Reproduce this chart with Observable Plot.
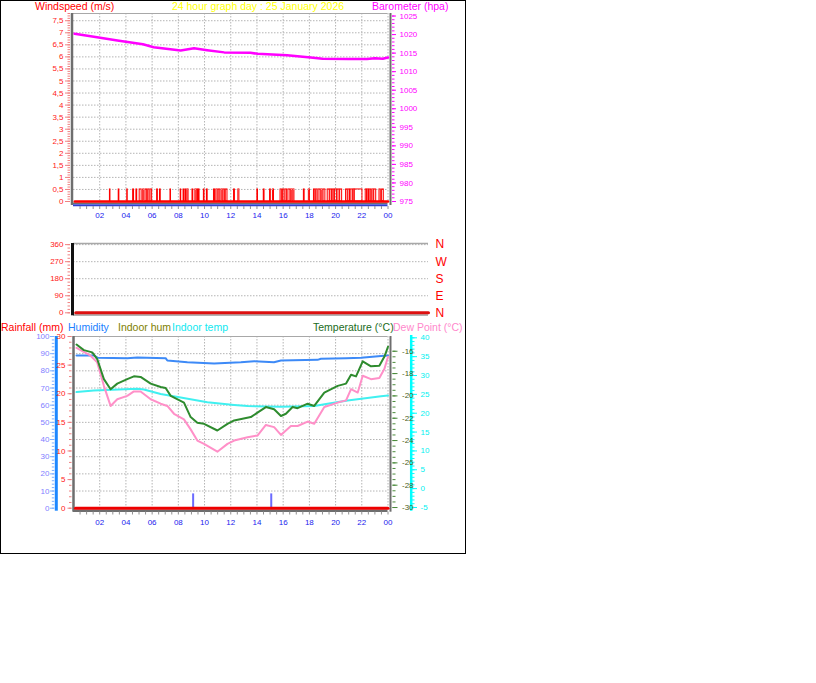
<!DOCTYPE html>
<html><head><meta charset="utf-8">
<script src="https://cdn.jsdelivr.net/npm/d3@7"></script>
<script src="https://cdn.jsdelivr.net/npm/@observablehq/plot@0.6"></script>
<style>
html,body{margin:0;padding:0;background:#fff;}
body{width:816px;height:683px;position:relative;overflow:hidden;font-family:"Liberation Sans",Arial,sans-serif;}
#box{position:absolute;left:0;top:0;width:464px;height:552px;border:1px solid #000;}
.layer{position:absolute;left:0;width:466px;}
.layer svg{background:transparent !important;overflow:visible;display:block;max-width:none !important;}
.t{position:absolute;font-size:10.5px;white-space:nowrap;line-height:12px;}
</style></head><body>
<div id="box"></div>
<div id="c"></div>
<div class="t" style="left:35px;top:0px;color:#ff0000">Windspeed (m/s)</div>
<div class="t" style="left:258px;top:0px;color:#ffff00;transform:translateX(-50%)">24 hour graph day : 25 January 2026</div>
<div class="t" style="left:372px;top:0px;color:#ff00ff">Barometer (hpa)</div>
<div class="t" style="left:1px;top:321px;color:#ff0000">Rainfall (mm)</div>
<div class="t" style="left:68px;top:321px;color:#2080ff">Humidity</div>
<div class="t" style="left:118px;top:321px;color:#808000">Indoor hum</div>
<div class="t" style="left:172px;top:321px;color:#10e8f0">Indoor temp</div>
<div class="t" style="left:313px;top:321px;color:#1a6b1a">Temperature (°C)</div>
<div class="t" style="left:393px;top:321px;color:#ff88cc">Dew Point (°C)</div>
<script>
// ---------------- data ----------------
const hourTicks = [2,4,6,8,10,12,14,16,18,20,22,24];
const hourLabels = ["02","04","06","08","10","12","14","16","18","20","22","00"];

const windTicks = [0,0.5,1,1.5,2,2.5,3,3.5,4,4.5,5,5.5,6,6.5,7,7.5];
const windBaseHour = [0.1, 24];
const windBaseValue = [0, 0];
const windGust = 0.5;
const windPulses = [[2.78,2.82],[3.45,3.5],[4.1,4.14],[4.55,4.62],[4.8,4.86],[5.05,5.2],[5.32,5.4],[5.5,5.62],[5.7,5.8],[5.88,6.0],[6.38,6.44],[6.6,6.66],[7.4,7.44],[8.18,8.22],[8.4,8.46],[8.55,8.62],[8.7,8.78],[9.08,9.14],[9.3,9.38],[9.45,9.52],[9.56,9.62],[9.95,10.0],[10.18,10.24],[10.72,10.8],[10.9,11.0],[11.08,11.2],[11.3,11.38],[11.45,11.55],[11.62,11.75],[12.25,12.32],[12.58,12.66],[14.03,14.08],[14.52,14.58],[15.0,15.06],[15.22,15.3],[15.8,15.9],[15.98,16.1],[16.18,16.3],[16.4,16.55],[16.62,16.7],[16.78,16.86],[17.58,17.64],[17.96,18.04],[18.35,18.45],[18.52,18.62],[18.7,18.85],[18.92,19.0],[19.08,19.22],[19.4,19.55],[19.6,19.72],[19.78,19.9],[19.95,20.1],[20.15,20.3],[20.35,20.5],[20.8,20.92],[20.98,21.1],[21.15,21.3],[21.35,21.45],[21.45,22.05],[22.3,22.4],[22.45,22.55],[22.6,22.72],[22.8,22.9],[22.95,23.1],[23.35,23.45],[23.55,23.68]];

const baroTicks = [975,980,985,990,995,1000,1005,1010,1015,1020,1025];
const baroHour  = [0.08,1.8,3.35,5.3,6.12,8.18,9.2,10.2,11.5,13.5,14.05,16.3,18.1,19.0,21.0,22.4,23.0,23.6,24.0];
const baroValue = [1020.2,1019.3,1018.4,1017.4,1016.6,1015.7,1016.3,1015.8,1015.2,1015.1,1014.8,1014.4,1013.8,1013.5,1013.4,1013.4,1013.6,1013.5,1013.8];

const dirTicks = [0,90,180,270,360];
const dirLabels = ["N","E","S","W","N"];
const dirHour = [0.15, 24];
const dirValue = [0, 0];

const rainTicks = [0,5,10,15,20,25,30];
const rainHour = [0.15, 24];
const rainValue = [0, 0];
const rainBarHour = [9.13, 15.09];
const rainBarValue = [2.5, 2.5];

const humTicks = [0,10,20,30,40,50,60,70,80,90,100];
const humHour  = [0.23,1.55,1.86,4.1,4.87,7.03,7.16,8.69,10.73,12.77,13.79,15.3,15.83,18.63,18.88,20.8,21.94,23.47,24];
const humValue = [89,89,87.6,87.4,87.8,87.4,86.0,85.0,84.3,85.0,85.6,85.0,86.0,86.4,87.0,87.4,87.6,88.6,89];

const tempTicks = [-30,-28,-26,-24,-22,-20,-18,-16];
const tempHour  = [0.23,0.79,1.43,1.81,2.32,2.83,3.34,4.1,4.61,5.12,5.89,6.65,7.03,7.42,8.43,8.94,9.45,9.96,10.98,11.75,12.26,13.53,14.04,14.68,15.31,15.83,16.21,16.72,17.1,17.87,18.37,19.14,20.16,20.8,21.18,21.56,22.07,22.7,23.34,23.72,24.0];
const tempValue = [-15.4,-15.9,-16.1,-16.7,-18.5,-19.4,-18.9,-18.5,-18.25,-18.3,-18.9,-19.2,-19.3,-20.0,-20.6,-21.9,-22.4,-22.5,-23.1,-22.5,-22.2,-21.9,-21.5,-21.0,-21.2,-21.8,-21.6,-21.0,-21.1,-20.7,-20.9,-19.7,-19.1,-18.9,-18.1,-18.25,-16.9,-17.35,-17.3,-16.5,-15.6];

const dewHour  = [0.23,1.30,1.81,2.32,2.83,3.34,4.1,4.61,5.12,5.89,6.65,7.16,7.67,8.43,8.94,9.45,9.96,10.98,11.75,12.26,13.28,14.04,14.68,15.31,15.83,16.59,17.1,17.87,18.37,19.14,20.16,20.8,21.18,21.69,22.07,22.7,23.34,23.72,24.0];
const dewValue = [-15.7,-16.4,-17.0,-19.1,-20.9,-20.3,-20.0,-19.6,-19.6,-20.3,-20.7,-20.9,-21.6,-22.1,-23.0,-24.0,-24.3,-25.0,-24.3,-24.0,-23.7,-23.55,-22.6,-22.8,-23.5,-22.7,-22.7,-22.3,-22.5,-21.0,-20.6,-20.4,-19.4,-19.7,-18.2,-18.5,-18.4,-17.6,-16.5];

const inTempTicks = [-5,0,5,10,15,20,25,30,35,40];
const inTempHour  = [0.23,1.55,4.87,5.37,6.65,8.18,10.22,12.26,13.28,15.83,18.37,19.39,20.92,23.47,24.0];
const inTempValue = [25.6,26.0,26.5,26.3,25.1,24.2,22.9,22.2,21.9,21.7,21.9,22.5,23.4,24.5,24.7];

// ---------------- helpers ----------------
const pts = (hs, vs) => hs.map((h, i) => ({h, v: vs[i]}));
const FONT = "Liberation Sans, Arial, sans-serif";
function layer(top, opts) {
  const svg = Plot.plot({
    width: 466,
    style: {background: "transparent", overflow: "visible", fontFamily: FONT, fontSize: "8px"},
    ...opts
  });
  const d = document.createElement("div");
  d.className = "layer";
  d.style.top = top + "px";
  d.appendChild(svg);
  document.getElementById("c").appendChild(d);
}
const grid = {stroke: "#b4b4b4", strokeOpacity: 1, strokeDasharray: "1.5,1.5"};
const hourLbl = d => hourLabels[hourTicks.indexOf(d)];
const plain = d => String(d);
const none = () => "";
const minorY = (ticks, o) => Plot.axisY(ticks, {tickFormat: none, tickPadding: 0, label: null, ...o});
const minorX = (ticks, o) => Plot.axisX(ticks, {tickFormat: none, tickPadding: 0, label: null, ...o});

// ---------------- top panel ----------------
const topDim = {height: 230, marginLeft: 73, marginRight: 78.5, marginTop: 13, marginBottom: 29};
layer(0, {
  ...topDim,
  x: {domain: [0, 24], axis: null},
  y: {domain: [0, 7.8], axis: null},
  marks: [
    Plot.gridY(windTicks.slice(1), grid),
    Plot.gridX(hourTicks, grid),
    Plot.ruleY([7.8], {stroke: "#a8a8a8", strokeWidth: 1.2}),
    Plot.ruleX([0], {stroke: "#6e6e6e", strokeWidth: 2.5, dx: -1.5, insetBottom: -4}),
    Plot.ruleX([24], {stroke: "#6e6e6e", strokeWidth: 2, dx: 2.5, insetBottom: -4}),
    Plot.ruleY([0], {stroke: "#6e6e6e", strokeWidth: 1.5, dy: 1.8}),
    Plot.ruleY([0], {stroke: "#2f3fd0", strokeWidth: 2, dy: 3.8}),
    Plot.rect(windPulses, {x1: d => d[0], x2: d => d[1], y1: 0, y2: windGust, stroke: "#ff0000", fill: "none", strokeWidth: 1}),
    Plot.line(pts(windBaseHour, windBaseValue), {x: "h", y: "v", stroke: "#ff0000", strokeWidth: 2.5}),
    minorY(d3.range(0, 7.81, 0.1), {anchor: "left", tickSize: 2.5, dx: -3, stroke: "#f08080"}),
    Plot.axisY(windTicks, {anchor: "left", tickSize: 5, tickPadding: 2, dx: -3, stroke: "#f08080", fill: "#ff2020",
      tickFormat: d => String(d).replace(".", ","), fontSize: 8, label: null}),
    minorX(d3.range(0.5, 24.01, 0.5), {anchor: "bottom", tickSize: 3, dy: 5, stroke: "#909090"}),
    Plot.axisX(hourTicks, {anchor: "bottom", tickSize: 0, tickPadding: 11, tickFormat: hourLbl, fill: "#2222ee", fontSize: 8, label: null})
  ]
});
layer(0, {
  ...topDim,
  x: {domain: [0, 24], axis: null},
  y: {domain: [975, 1025.68], axis: null},
  marks: [
    Plot.line(pts(baroHour, baroValue), {x: "h", y: "v", stroke: "#ff00ff", strokeWidth: 2.5}),
    minorY(d3.range(975, 1026, 1), {anchor: "right", tickSize: 2.5, dx: 3.5, stroke: "#ff00ff"}),
    Plot.axisY(baroTicks, {anchor: "right", tickSize: 4, tickPadding: 4, dx: 3.5, stroke: "#ff00ff", fill: "#ff00ff", tickFormat: plain, fontSize: 8, label: null})
  ]
});

// ---------------- middle panel (wind direction) ----------------
layer(230, {
  height: 100, marginLeft: 73, marginRight: 38, marginTop: 13, marginBottom: 17.7,
  x: {domain: [0, 24], axis: null},
  y: {domain: [0, 366], axis: null},
  marks: [
    Plot.gridY(dirTicks.slice(1), grid),
    Plot.ruleY([366], {stroke: "#a8a8a8", strokeWidth: 1.5}),
    Plot.ruleY([0], {stroke: "#9a9a9a", strokeWidth: 1.5, dy: 2.2}),
    Plot.line(pts(dirHour, dirValue), {x: "h", y: "v", stroke: "#dd1111", strokeWidth: 3}),
    Plot.ruleX([0], {stroke: "#111", strokeWidth: 3, dx: -1, insetBottom: -3}),
    minorY(d3.range(0, 361, 18), {anchor: "left", tickSize: 2.5, dx: -3, stroke: "#f08080"}),
    Plot.axisY(dirTicks, {anchor: "left", tickSize: 5, tickPadding: 2, dx: -3, stroke: "#f08080", fill: "#ff2020", tickFormat: plain, fontSize: 8, label: null}),
    Plot.axisY(dirTicks, {anchor: "right", tickSize: 0, tickPadding: 7, tickFormat: d => dirLabels[dirTicks.indexOf(d)],
      fill: "#ff0000", fontSize: 12, label: null})
  ]
});

// ---------------- bottom panel ----------------
const botDim = {height: 225, marginLeft: 73, marginRight: 78.5, marginTop: 6, marginBottom: 47.3};
layer(330, {
  ...botDim,
  x: {domain: [0, 24], axis: null},
  y: {domain: [0, 100], axis: null},
  marks: [
    Plot.gridY(humTicks.slice(1), grid),
    Plot.gridX(hourTicks, grid),
    Plot.ruleX([0], {stroke: "#1e88ff", strokeWidth: 3, dx: -17.2, insetBottom: -3}),
    minorY(d3.range(0, 101, 2), {anchor: "left", tickSize: 2.5, dx: -18.7, stroke: "#7fb0ff"}),
    Plot.axisY(humTicks, {anchor: "left", tickSize: 4.3, tickPadding: 1, dx: -18.7, stroke: "#7fb0ff", fill: "#7f80ff", tickFormat: plain, fontSize: 8, label: null}),
    Plot.line(pts(humHour, humValue), {x: "h", y: "v", stroke: "#3d8af7", strokeWidth: 2})
  ]
});
layer(330, {
  ...botDim,
  x: {domain: [0, 24], axis: null},
  y: {domain: [0, 30], axis: null},
  marks: [
    Plot.ruleY([30], {stroke: "#a8a8a8", strokeWidth: 1.2}),
    Plot.ruleX([0], {stroke: "#6e6e6e", strokeWidth: 2.5, dx: 0, insetBottom: -4}),
    Plot.ruleX([24], {stroke: "#6e6e6e", strokeWidth: 2, dx: 2.5, insetBottom: -4}),
    Plot.ruleY([0], {stroke: "#6e6e6e", strokeWidth: 2.5, dy: 2.5}),
    Plot.ruleX(pts(rainBarHour, rainBarValue), {x: "h", y1: 0, y2: "v", stroke: "#6b6bff", strokeWidth: 2}),
    Plot.line(pts(rainHour, rainValue), {x: "h", y: "v", stroke: "#ee0000", strokeWidth: 3}),
    minorY(d3.range(0, 30.1, 1), {anchor: "left", tickSize: 2.5, dx: -1.5, stroke: "#f08080"}),
    Plot.axisY(rainTicks, {anchor: "left", tickSize: 4, tickPadding: 2.5, dx: -1.5, stroke: "#f08080", fill: "#ff2020", tickFormat: plain, fontSize: 8, label: null}),
    minorX(d3.range(0.5, 24.01, 0.5), {anchor: "bottom", tickSize: 3, dy: 3.8, stroke: "#909090"}),
    Plot.axisX(hourTicks, {anchor: "bottom", tickSize: 0, tickPadding: 11.5, tickFormat: hourLbl, fill: "#2222ee", fontSize: 8, label: null})
  ]
});
layer(330, {
  ...botDim,
  x: {domain: [0, 24], axis: null},
  y: {domain: [-5.19, 40.35], axis: null},
  marks: [
    Plot.line(pts(inTempHour, inTempValue), {x: "h", y: "v", stroke: "#40f0f0", strokeWidth: 2}),
    Plot.ruleX([24], {stroke: "#00ffff", strokeWidth: 2.5, dx: 23.2, insetBottom: -3, insetTop: -1}),
    minorY(d3.range(-5, 40.1, 1), {anchor: "right", tickSize: 2.5, dx: 23.5, stroke: "#00ffff"}),
    Plot.axisY(inTempTicks, {anchor: "right", tickSize: 5, tickPadding: 4, dx: 23.5, stroke: "#00ffff", fill: "#00f0f0", tickFormat: plain, fontSize: 8, label: null})
  ]
});
layer(330, {
  ...botDim,
  x: {domain: [0, 24], axis: null},
  y: {domain: [-30.06, -14.68], axis: null},
  marks: [
    Plot.line(pts(dewHour, dewValue), {x: "h", y: "v", stroke: "#ff90c8", strokeWidth: 2}),
    Plot.line(pts(tempHour, tempValue), {x: "h", y: "v", stroke: "#2e8b2e", strokeWidth: 2}),
    minorY(d3.range(-30, -15.9, 0.5), {anchor: "right", tickSize: 3, dx: 4, stroke: "#4a8a3a"}),
    Plot.axisY(tempTicks, {anchor: "right", tickSize: 5, tickPadding: 5, dx: 4, stroke: "#4a8a3a", fill: "#4b6020", tickFormat: plain, fontSize: 8, label: null})
  ]
});
</script>
</body></html>
